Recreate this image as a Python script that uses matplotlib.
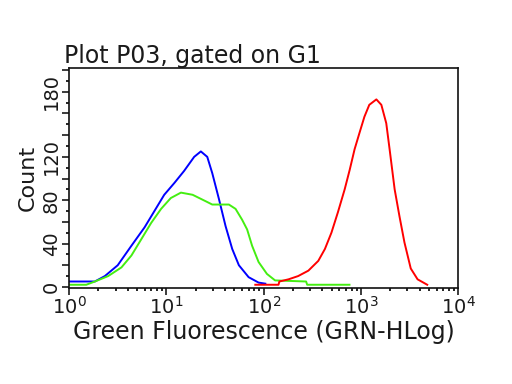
import matplotlib
matplotlib.use('Agg')
import matplotlib.pyplot as plt
from matplotlib.ticker import FixedLocator, FixedFormatter, LogLocator, NullFormatter

# ---- data ----
blue_x = [1.0, 1.84, 2.33, 3.16, 4.37, 5.97, 7.53, 9.5, 12.1, 15.2, 19.3, 22.6,
          26.3, 29.6, 34.7, 40.6, 47.5, 55.6, 70, 88.6, 104]
blue_y = [5, 5, 10, 20, 38, 55, 70, 85, 96, 107, 120, 125,
          120, 105, 81, 56, 35, 20, 9, 4, 3]

green_x = [1.0, 1.5, 1.84, 2.52, 3.45, 4.37, 5.52, 6.97, 8.82, 11.1, 14.1, 18.6,
           25.4, 29.6, 43.9, 51.4, 60, 67.6, 76, 88.6, 108, 131, 273, 280, 762]
green_y = [2, 2, 5, 10, 18, 29, 44, 59, 72, 82, 87, 85,
           79, 76, 76, 72, 62, 53, 38, 23, 12, 6, 5, 2, 2]

red_x = [82, 142, 145, 180, 226, 288, 364, 426, 497, 580, 680, 766, 860, 965,
         1085, 1218, 1440, 1620, 1820, 1970, 2220, 2490, 2800, 3250, 3820, 4800]
red_y = [2, 2, 5, 7, 10, 15, 24, 35, 50, 69, 90, 108, 127, 142,
         157, 168, 173, 168, 151, 127, 90, 65, 41, 17, 7, 2]

y_major = list(range(0, 201, 20))
y_labels = ['0', '', '40', '', '80', '', '120', '', '', '180', '']
y_minor = list(range(10, 201, 20))

# ---- figure ----
fig = plt.figure(figsize=(5.12, 3.84), dpi=100)
ax = fig.add_axes([0.135, 0.25, 0.76, 0.573])

ax.plot(blue_x, blue_y, color='#0000FF', lw=1.4)
ax.plot(green_x, green_y, color='#44EE11', lw=1.4)
ax.plot(red_x, red_y, color='#FF0000', lw=1.4)

ax.set_xscale('log')
ax.set_xlim(1, 1e4)
ax.set_ylim(-1, 202)

ax.xaxis.set_major_locator(LogLocator(base=10, numticks=10))
ax.xaxis.set_minor_locator(LogLocator(base=10, subs=range(2, 10), numticks=20))
ax.xaxis.set_minor_formatter(NullFormatter())

ax.yaxis.set_major_locator(FixedLocator(y_major))
ax.yaxis.set_major_formatter(FixedFormatter(y_labels))
ax.yaxis.set_minor_locator(FixedLocator(y_minor))

ax.tick_params(axis='both', which='major', direction='out', length=5, width=1.2,
               labelsize=14, colors='#1a1a1a')
ax.tick_params(axis='both', which='minor', direction='out', length=2.5, width=1.2)
ax.tick_params(axis='y', which='major', pad=1)
ax.tick_params(axis='x', which='major', pad=1)
for lab in ax.get_yticklabels():
    lab.set_rotation(90)
    lab.set_va('center')

for sp in ax.spines.values():
    sp.set_linewidth(1.2)
    sp.set_color('#111111')

ax.set_title('Plot P03, gated on G1', loc='left', fontsize=17, color='#1a1a1a',
             pad=3, x=-0.012)
ax.set_xlabel('Green Fluorescence (GRN-HLog)', fontsize=17, color='#1a1a1a', labelpad=1)
ax.set_ylabel('Count', fontsize=16, color='#1a1a1a', labelpad=3)

fig.savefig('out.png', dpi=100)
